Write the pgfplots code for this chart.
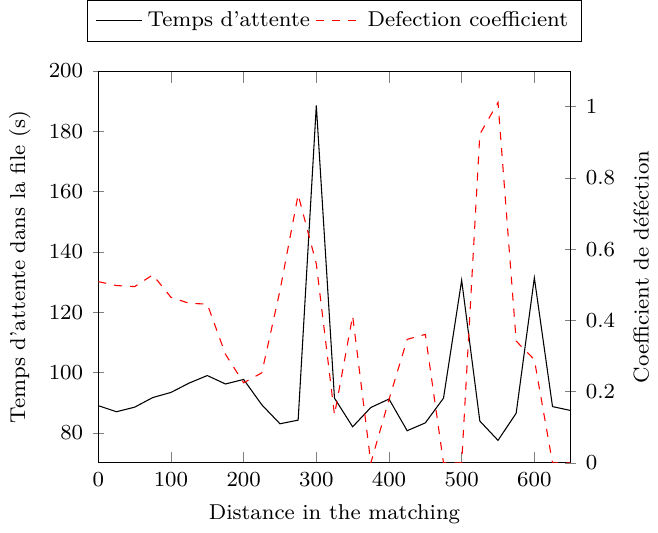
\documentclass[border=0pt]{standalone}
\usepackage{pgfplots}
\pgfplotsset{compat=1.18}
\usepackage{pgfplotstable}
\pgfplotstableread{
x t
0 89
25 87
50 88.5
75 91.7
100 93.4
125 96.5
150 99
175 96.2
200 97.7
225 89.3
250 83
275 84.2
300 188.6
325 91.5
350 82
375 88.4
400 91.2
425 80.7
450 83.3
475 91.5
500 130.6
525 83.9
550 77.5
575 86.5
600 131.4
625 88.7
650 87.4
}\tempsdata
\pgfplotstableread{
x d
0 0.509
25 0.498
50 0.495
75 0.528
100 0.465
125 0.448
150 0.446
175 0.305
200 0.225
225 0.253
250 0.484
275 0.753
300 0.559
325 0.135
350 0.413
375 0
400 0.178
425 0.347
450 0.361
475 0
500 0
525 0.923
550 1.012
575 0.342
600 0.29
625 0
650 0
}\defdata
\begin{document}
\begin{tikzpicture}
\pgfplotsset{every axis/.append style={font=\footnotesize}}
\begin{axis}[
  scale only axis,
  width=176pt, height=146pt,
  xmin=0, xmax=650,
  ymin=70, ymax=200,
  axis y line*=left,
  ytick align=center,
  xtick={0,100,...,600},
  ytick={80,100,...,200},
  xlabel={Distance in the matching},
  ylabel={Temps d'attente dans la file (s)},
]
\addplot[black, mark=none] table[x=x, y=t] {\tempsdata};
\end{axis}
\begin{axis}[
  scale only axis,
  width=176pt, height=146pt,
  xmin=0, xmax=650,
  ymin=0, ymax=1.1,
  axis y line*=right,
  axis x line=none,
  ytick align=center,
  ytick={0,0.2,...,1},
  ylabel={Coefficient de d\'ef\'ection},
  legend style={at={(0.5,1.075)}, anchor=south, legend columns=2, font=\footnotesize},
]
\addlegendimage{black}
\addlegendentry{Temps d'attente}
\addplot[red, dashed, mark=none] table[x=x, y=d] {\defdata};
\addlegendentry{Defection coefficient}
\end{axis}
\end{tikzpicture}
\end{document}
